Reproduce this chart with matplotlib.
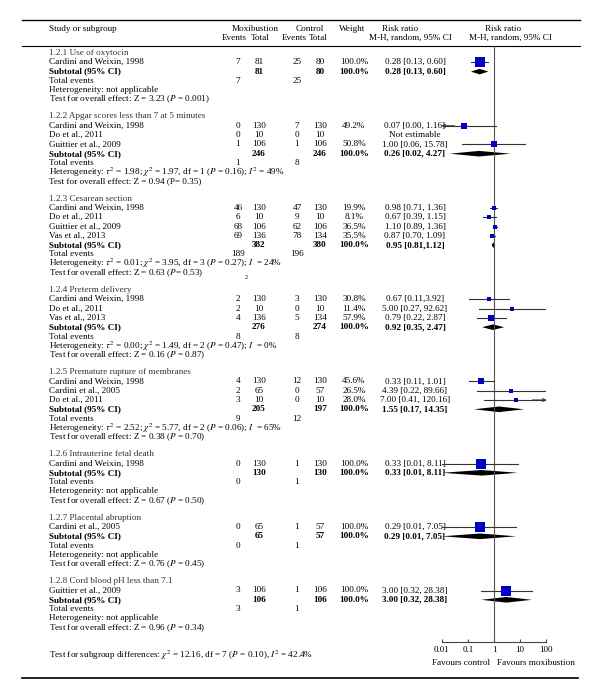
import numpy as np
import matplotlib.pyplot as plt

plt.rcParams['font.family'] = ['Liberation Serif', 'DejaVu Serif']
plt.rcParams['mathtext.fontset'] = 'stix'

# subgroups
group_titles = [
    "1.2.1 Use of oxytocin",
    "1.2.2 Apgar scores less than 7 at 5 minutes",
    "1.2.3 Cesarean section",
    "1.2.4 Preterm delivery",
    "1.2.5 Premature rupture of membranes",
    "1.2.6 Intrauterine fetal death",
    "1.2.7 Placental abruption",
    "1.2.8 Cord blood pH less than 7.1",
]

# individual studies
study_group = [0, 1, 1, 1, 2, 2, 2, 2, 3, 3, 3, 4, 4, 4, 5, 6, 7]
study_names = [
    "Cardini and Weixin, 1998",
    "Cardini and Weixin, 1998", "Do et al., 2011", "Guittier et al., 2009",
    "Cardini and Weixin, 1998", "Do et al., 2011", "Guittier et al., 2009", "Vas et al., 2013",
    "Cardini and Weixin, 1998", "Do et al., 2011", "Vas et al., 2013",
    "Cardini and Weixin, 1998", "Cardini et al., 2005", "Do et al., 2011",
    "Cardini and Weixin, 1998",
    "Cardini et al., 2005",
    "Guittier et al., 2009",
]
mox_events = [7, 0, 0, 1, 46, 6, 68, 69, 2, 2, 4, 4, 2, 3, 0, 0, 3]
mox_total = [81, 130, 10, 106, 130, 10, 106, 136, 130, 10, 136, 130, 65, 10, 130, 65, 106]
ctrl_events = [25, 7, 0, 1, 47, 9, 62, 78, 3, 0, 5, 12, 0, 0, 1, 1, 1]
ctrl_total = [80, 130, 10, 106, 130, 10, 106, 134, 130, 10, 134, 130, 57, 10, 130, 57, 106]
weights = [100.0, 49.2, None, 50.8, 19.9, 8.1, 36.5, 35.5, 30.8, 11.4, 57.9,
           45.6, 26.5, 28.0, 100.0, 100.0, 100.0]
rr = [0.28, 0.07, None, 1.00, 0.98, 0.67, 1.10, 0.87, 0.67, 5.00, 0.79,
      0.33, 4.39, 7.00, 0.33, 0.29, 3.00]
rr_lo = [0.13, 0.00, None, 0.06, 0.71, 0.39, 0.89, 0.70, 0.11, 0.27, 0.22,
         0.11, 0.22, 0.41, 0.01, 0.01, 0.32]
rr_hi = [0.60, 1.16, None, 15.78, 1.36, 1.15, 1.36, 1.09, 3.92, 92.62, 2.87,
         1.01, 89.66, 120.16, 8.11, 7.05, 28.38]
rr_text = ["0.28 [0.13, 0.60]", "0.07 [0.00, 1.16]", "Not estimable", "1.00 [0.06, 15.78]",
           "0.98 [0.71, 1.36]", "0.67 [0.39, 1.15]", "1.10 [0.89, 1.36]", "0.87 [0.70, 1.09]",
           "0.67 [0.11,3.92]", "5.00 [0.27, 92.62]", "0.79 [0.22, 2.87]",
           "0.33 [0.11, 1.01]", "4.39 [0.22, 89.66]", "7.00 [0.41, 120.16]",
           "0.33 [0.01, 8.11]", "0.29 [0.01, 7.05]", "3.00 [0.32, 28.38]"]

# subtotals
sub_mox_total = [81, 246, 382, 276, 205, 130, 65, 106]
sub_ctrl_total = [80, 246, 380, 274, 197, 130, 57, 106]
sub_mox_events = [7, 1, 189, 8, 9, 0, 0, 3]
sub_ctrl_events = [25, 8, 196, 8, 12, 1, 1, 1]
sub_rr = [0.28, 0.26, 0.95, 0.92, 1.55, 0.33, 0.29, 3.00]
sub_lo = [0.13, 0.02, 0.81, 0.35, 0.17, 0.01, 0.01, 0.32]
sub_hi = [0.60, 4.27, 1.12, 2.47, 14.35, 8.11, 7.05, 28.38]
sub_text = ["0.28 [0.13, 0.60]", "0.26 [0.02, 4.27]", "0.95 [0.81,1.12]", "0.92 [0.35, 2.47]",
            "1.55 [0.17, 14.35]", "0.33 [0.01, 8.11]", "0.29 [0.01, 7.05]", "3.00 [0.32, 28.38]"]
het_text = [
    "Heterogeneity: not applicable",
    r"Heterogeneity: $\tau^2$ = 1.98; $\chi^2$ = 1.97, df = 1 ($P$ = 0.16); $I^2$ = 49%",
    r"Heterogeneity: $\tau^2$ = 0.01; $\chi^2$ = 3.95, df = 3 ($P$ = 0.27); $I$  = 24%",
    r"Heterogeneity: $\tau^2$ = 0.00; $\chi^2$ = 1.49, df = 2 ($P$ = 0.47); $I$  = 0%",
    r"Heterogeneity: $\tau^2$ = 2.52; $\chi^2$ = 5.77, df = 2 ($P$ = 0.06); $I$  = 65%",
    "Heterogeneity: not applicable",
    "Heterogeneity: not applicable",
    "Heterogeneity: not applicable",
]
overall_text = [
    r"Test for overall effect: Z = 3.23 ($P$ = 0.001)",
    "Test for overall effect: Z = 0.94 (P= 0.35)",
    r"Test for overall effect: Z = 0.63 ($P$= 0.53)",
    r"Test for overall effect: Z = 0.16 ($P$ = 0.87)",
    r"Test for overall effect: Z = 0.38 ($P$ = 0.70)",
    r"Test for overall effect: Z = 0.67 ($P$ = 0.50)",
    r"Test for overall effect: Z = 0.76 ($P$ = 0.45)",
    r"Test for overall effect: Z = 0.96 ($P$ = 0.34)",
]
subgroup_diff = r"Test for subgroup differences: $\chi^2$ = 12.16, df = 7 ($P$ = 0.10), $I^2$ = 42.4%"
tick_vals = [0.01, 0.1, 1, 10, 100]
tick_labels = ["0.01", "0.1", "1", "10", "100"]

W, H = 600, 699
fig = plt.figure(figsize=(W / 100, H / 100), dpi=100)
bg = fig.add_axes([0, 0, 1, 1])
bg.set_xlim(0, W)
bg.set_ylim(H, 0)
bg.axis('off')

# forest panel: pixel y, log x from 0.01..100 at px 442..546
fx0, fx1, fy0, fy1 = 442, 546, 46, 642
ax = fig.add_axes([fx0 / W, 1 - fy1 / H, (fx1 - fx0) / W, (fy1 - fy0) / H])
ax.set_xscale('log')
ax.set_xlim(0.01, 100)
ax.set_ylim(fy1, fy0)
ax.patch.set_alpha(0)
for s in ['top', 'right', 'left']:
    ax.spines[s].set_visible(False)
ax.spines['bottom'].set_color('#444444')
ax.spines['bottom'].set_linewidth(0.8)
ax.set_yticks([])
ax.set_xticks(tick_vals)
ax.set_xticklabels(tick_labels)
ax.minorticks_off()
ax.tick_params(axis='x', direction='in', length=2.5, width=0.8, color='#444444',
               labelsize=6.5, pad=3)
ax.axvline(1, color='#555555', lw=0.8)

fs = 6.6
X_NAME, X_ME, X_MT, X_CE, X_CT, X_W, X_RR = 49, 238, 259, 297, 320, 354, 415
blue = '#0000C0'


def txt(x, y, s, ha='left', **kw):
    bg.text(x, y, s, ha=ha, va='center', fontsize=fs, **kw)


# header and rules
bg.plot([22, 580], [20, 20], color='black', lw=1.0)
bg.plot([22, 580], [46, 46], color='black', lw=0.8)
bg.plot([22, 578], [678, 678], color='black', lw=1.2)
txt(X_NAME, 29, "Study or subgroup")
txt(255, 29, "Moxibustion", ha='center')
txt(234, 38, "Events", ha='center')
txt(260, 38, "Total", ha='center')
txt(310, 29, "Control", ha='center')
txt(294, 38, "Events", ha='center')
txt(318, 38, "Total", ha='center')
txt(352, 29, "Weight", ha='center')
txt(400, 29, "Risk ratio", ha='center')
txt(410, 38, "M-H, random, 95% CI", ha='center')
txt(503, 29, "Risk ratio", ha='center')
txt(510, 38, "M-H, random, 95% CI", ha='center')


def diamond(y, est, lo, hi, h=2.8):
    ax.fill([lo, est, hi, est], [y, y - h, y, y + h], color='black', lw=0, clip_on=False)


step, gap = 9.3, 17.0
y = 53.0
for g, title in enumerate(group_titles):
    txt(X_NAME, y, title, color='#333333')
    y += step
    for i in [k for k, sg in enumerate(study_group) if sg == g]:
        txt(X_NAME, y, study_names[i])
        txt(X_ME, y, str(mox_events[i]), ha='center')
        txt(X_MT, y, str(mox_total[i]), ha='center')
        txt(X_CE, y, str(ctrl_events[i]), ha='center')
        txt(X_CT, y, str(ctrl_total[i]), ha='center')
        if weights[i] is not None:
            txt(X_W, y, f"{weights[i]:.1f}%", ha='center')
        txt(X_RR, y, rr_text[i], ha='center')
        if rr[i] is not None:
            lo, hi = rr_lo[i], rr_hi[i]
            if lo <= 0:
                ax.plot([0.011, hi], [y, y], color='#333333', lw=0.8, clip_on=False)
                ax.annotate('', xy=(0.0095, y), xytext=(0.03, y), annotation_clip=False,
                            arrowprops=dict(arrowstyle='->', color='#333333', lw=0.8,
                                            shrinkA=0, shrinkB=0, mutation_scale=5))
            elif hi > 100:
                ax.plot([lo, 90], [y, y], color='#333333', lw=0.8, clip_on=False)
                ax.annotate('', xy=(105, y), xytext=(30, y), annotation_clip=False,
                            arrowprops=dict(arrowstyle='->', color='#333333', lw=0.8,
                                            shrinkA=0, shrinkB=0, mutation_scale=5))
            else:
                ax.plot([lo, hi], [y, y], color='#333333', lw=0.8, clip_on=False)
            ax.plot(rr[i], y, 's', color=blue, ms=1.8 + 4.7 * weights[i] / 100,
                    mew=0, clip_on=False)
        y += step
    txt(X_NAME, y, "Subtotal (95% CI)", fontweight='bold')
    txt(X_MT, y, str(sub_mox_total[g]), ha='center', fontweight='bold')
    txt(X_CT, y, str(sub_ctrl_total[g]), ha='center', fontweight='bold')
    txt(X_W, y, "100.0%", ha='center', fontweight='bold')
    txt(X_RR, y, sub_text[g], ha='center', fontweight='bold')
    diamond(y, sub_rr[g], sub_lo[g], sub_hi[g])
    y += step
    txt(X_NAME, y, "Total events")
    txt(X_ME, y, str(sub_mox_events[g]), ha='center')
    txt(X_CE, y, str(sub_ctrl_events[g]), ha='center')
    y += step
    txt(X_NAME, y, het_text[g])
    if g == 2:
        bg.text(246, y + 14, "2", fontsize=4.5, ha='center', va='center')
    y += step
    txt(X_NAME, y, overall_text[g])
    y += gap

txt(X_NAME, 655, subgroup_diff)
txt(490, 663, "Favours control", ha='right')
txt(497, 663, "Favours moxibustion", ha='left')

fig.savefig('out.png', dpi=100)
